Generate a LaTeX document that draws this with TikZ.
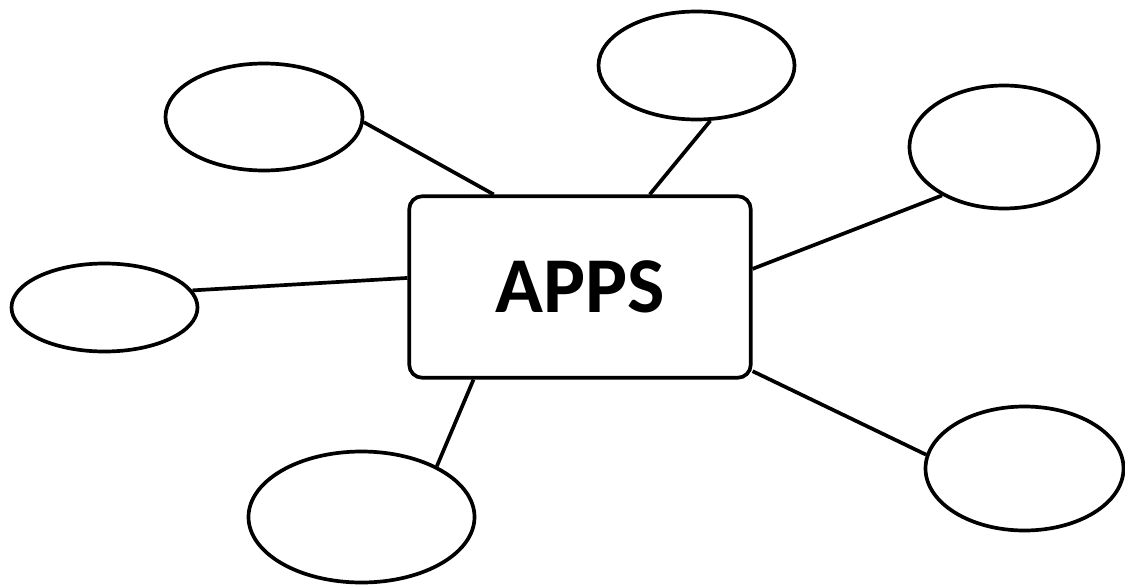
\documentclass[tikz,border=0pt]{standalone}
\usepackage{fontspec}
\setsansfont{Carlito}
\usetikzlibrary{shapes.geometric}

\begin{document}
\begin{tikzpicture}[
    bubble/.style={draw, ellipse, line width=2.1pt, inner sep=0pt},
    spoke/.style={line width=2.1pt}
  ]
    \useasboundingbox (0,0) rectangle (22.5,11.68);
    % centre box
    \node[draw, line width=2.1pt, rounded corners=0.26cm, minimum width=6.83cm,
          minimum height=3.63cm, font=\sffamily\bfseries\fontsize{45}{50}\selectfont]
          (apps) at (11.6,5.94) {APPS};
    % empty bubbles round it
    \node[bubble, minimum width=3.94cm, minimum height=2.14cm] (topleft) at (5.28,9.34) {};
    \node[bubble, minimum width=3.92cm, minimum height=2.16cm] (top) at (13.93,10.37) {};
    \node[bubble, minimum width=3.78cm, minimum height=2.46cm] (topright) at (20.08,8.74) {};
    \node[bubble, minimum width=3.72cm, minimum height=1.76cm] (left) at (2.09,5.53) {};
    \node[bubble, minimum width=4.52cm, minimum height=2.62cm] (bottomleft) at (7.23,1.34) {};
    \node[bubble, minimum width=3.96cm, minimum height=2.48cm] (bottomright) at (20.49,2.31) {};
    % spokes
    \draw[spoke] (topleft.357) -- (apps.133);
    \draw[spoke] (top.-76) -- (apps.53);
    \draw[spoke] (topright.218) -- (apps.6);
    \draw[spoke] (left.11) -- (apps.177);
    \draw[spoke] (bottomleft.34) -- (apps.221);
    \draw[spoke] (bottomright.172) -- (apps.-26);
\end{tikzpicture}
\end{document}
